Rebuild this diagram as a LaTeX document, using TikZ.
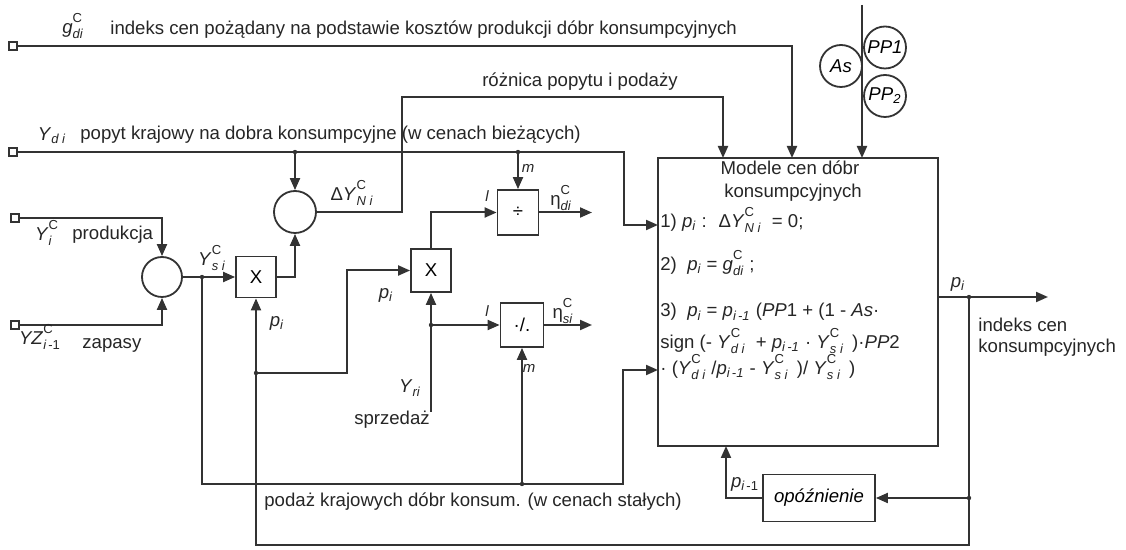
\documentclass[tikz,border=0pt]{standalone}
\usepackage{amsmath}
\usepackage{fontspec}
\setmainfont{Liberation Sans}
\usetikzlibrary{arrows.meta}
\newcommand{\Vb}[3]{\textit{#1}\ensuremath{^{\text{\raisebox{1.5pt}{#2}}}_{\text{\itshape\raisebox{-1pt}{#3}}}}}
\newcommand{\Vs}[2]{\textit{#1}\ensuremath{_{\text{\itshape #2}}}}
\tikzstyle{wire} = [line width=1pt, draw=black!80]
\tikzstyle{flow} = [
    wire,
    -{Triangle[length=6pt,width=5pt]}
]
\tikzstyle{blok} = [draw=black!80, line width=0.9pt, inner sep=0pt, minimum width=20pt, minimum height=20.5pt]
\tikzstyle{kolo} = [circle, draw=black!80, line width=0.9pt, inner sep=0pt, minimum size=20pt]
\tikzstyle{zacisk} = [draw=black!80, line width=0.8pt, fill=white, inner sep=0pt, minimum size=4pt]
\tikzstyle{punkt} = [circle, fill=black!80, inner sep=0pt, minimum size=2.2pt]
\tikzstyle{opis} = [inner sep=0pt, text=black!85]
\tikzstyle{maly} = [opis, font=\fontsize{7.5}{9}\selectfont\itshape]

\begin{document}
\begin{tikzpicture}[x=0.5pt,y=-0.5pt, every node/.style={font=\fontsize{9.3}{11}\selectfont}]
\useasboundingbox[fill=white] (0,0) rectangle (1126,550);

\node[draw=black!80, line width=0.6pt, minimum width=140pt, minimum height=144pt] (model) at (798,302) {};

\node[blok] (mx1) at (256,277) {X};
\node[blok, minimum height=21.5pt] (mx2) at (431,270.5) {X};
\node[blok, minimum width=20.5pt, minimum height=22.5pt] (div) at (518,212.5) {÷};
\node[blok, minimum width=21.5pt, minimum height=22pt] (prc) at (522,325) {·/.};
\node[blok, minimum width=56pt, minimum height=23.5pt] (delay) at (819,498) {\itshape opóźnienie};

\node[kolo] (sum) at (162,277) {};
\node[kolo, minimum size=21pt] (dy) at (295,212) {};
\node[kolo, minimum size=21pt] (as) at (841,66) {\itshape As};
\node[kolo, minimum size=21pt] (pp1) at (885,47.5) {\itshape PP1};
\node[kolo, minimum size=21pt] (pp2) at (885,96) {\itshape PP\textsubscript{2}};

\node[zacisk] (ing) at (13,46) {};
\node[zacisk] (iny) at (13,152) {};
\node[zacisk] (inp) at (15,218) {};
\node[zacisk] (inz) at (15,325) {};

\coordinate (gtop) at (792,158);
\coordinate (ptop) at (862,5);
\coordinate (pbox) at (862,158);
\coordinate (yd) at (624,225);
\coordinate (m1) at (658,225);
\coordinate (jd1) at (295,152);
\coordinate (jd2) at (518,152);
\coordinate (rz) at (402,97);
\coordinate (rztop) at (723,158);
\coordinate (js) at (202,277);
\coordinate (jp) at (256,373);
\coordinate (pz) at (347,270.5);
\coordinate (yr) at (431,412);
\coordinate (jr) at (431,325);
\coordinate (jm) at (522,484);
\coordinate (sp) at (623,370);
\coordinate (m3) at (658,370);
\coordinate (eta1) at (592,212.5);
\coordinate (eta2) at (592,325);
\coordinate (mo) at (938,297);
\coordinate (jo) at (969,297);
\coordinate (out) at (1048,297);
\coordinate (bl) at (969,545);
\coordinate (jdl) at (969,498);
\coordinate (mb) at (726,446);

\draw[flow] (ing) -| (gtop);
\draw[flow] (ptop) -- (pbox);
\draw[flow] (iny) -| (yd) -- (m1);
\draw[flow] (jd1) -- (dy);
\draw[flow] (jd2) -- (div);
\draw[flow] (dy) -| (rz) -| (rztop);
\draw[flow] (inp) -| (sum);
\draw[flow] (inz) -| (sum);
\draw[flow] (sum) -- (mx1);
\draw[flow] (mx1) -| (dy);
\draw[flow] (jp) -- (mx1);
\draw[flow] (jp) -| (pz) -- (mx2);
\draw[flow] (mx2) |- (div);
\draw[flow] (yr) -- (mx2);
\draw[flow] (jr) -- (prc);
\draw[wire] (js) |- (jm);
\draw[flow] (jm) -- (prc);
\draw[flow] (jm) -| (sp) -- (m3);
\draw[flow] (div) -- (eta1);
\draw[flow] (prc) -- (eta2);
\draw[flow] (mo) -- (out);
\draw[wire] (jo) -- (bl) -| (jp);
\draw[flow] (jdl) -- (delay);
\draw[flow] (delay) -| (mb);

\foreach \p in {js,jp,jr,jm,jd1,jd2,jo,jdl}
    \node[punkt] (d-\p) at (\p) {};

\node[opis] (lg) at (73,26) {\Vb{g}{C}{di}};
\node[opis, anchor=west] (tg) at (110,30) {indeks cen pożądany na podstawie kosztów produkcji dóbr konsumpcyjnych};
\node[opis] (lyd) at (52,136) {\Vs{Y}{d i}};
\node[opis, anchor=west] (tyd) at (80,135) {popyt krajowy na dobra konsumpcyjne (w cenach bieżących)};
\node[opis] (lyp) at (47,233) {\Vb{Y}{C}{i}};
\node[opis, anchor=west] (typ) at (72,235) {produkcja};
\node[opis] (lyz) at (40,337) {\Vb{YZ}{C}{i\,\upshape -1}};
\node[opis, anchor=west] (tyz) at (82,345) {zapasy};
\node[opis] (lys) at (212,258) {\Vb{Y}{C}{s i}};
\node[opis] (ldy) at (352,193) {Δ\Vb{Y}{C}{N i}};
\node[opis] (trz) at (580,82) {różnica popytu i podaży};
\node[opis] (lp1) at (277,323) {\Vs{p}{i}};
\node[opis] (lp2) at (386,295) {\Vs{p}{i}};
\node[maly] (lm1) at (528,168) {m};
\node[maly] (ll1) at (487,196) {l};
\node[maly] (ll2) at (487,311) {l};
\node[maly] (lm2) at (529,368) {m};
\node[opis] (le1) at (561,198) {η\ensuremath{^{\text{\raisebox{1.5pt}{C}}}_{\text{\itshape\raisebox{-1pt}{di}}}}};
\node[opis] (le2) at (563,311) {η\ensuremath{^{\text{\raisebox{1.5pt}{C}}}_{\text{\itshape\raisebox{-1pt}{si}}}}};
\node[opis] (lyr) at (410,388) {\Vs{Y}{ri}};
\node[opis] (tyr) at (392,420) {sprzedaż};
\node[opis, anchor=west] (tpod) at (264,502) {podaż krajowych dóbr konsum. (w cenach stałych)};
\node[opis] (lpo) at (958,284) {\Vs{p}{i}};
\node[opis, anchor=west] (tout1) at (978,325) {indeks cen};
\node[opis, anchor=west] (tout2) at (978,348) {konsumpcyjnych};
\node[opis] (lpd) at (745,484) {\Vs{p}{i\,\upshape -1}};

\node[opis] (t0) at (790,168) {Modele cen dóbr};
\node[opis] (t00) at (793,193) {konsumpcyjnych};
\node[opis, anchor=west] (t1) at (660,220) {1) \Vs{p}{i} : \ Δ\Vb{Y}{C}{N i} \ = 0;};
\node[opis, anchor=west] (t2) at (660,263) {2) \ \Vs{p}{i} = \Vb{g}{C}{di} ;};
\node[opis, anchor=west] (t3) at (660,312) {3) \ \Vs{p}{i} = \Vs{p}{i\,-1} (\textit{PP}1 + (1 - \textit{As}·};
\node[opis, anchor=west] (t4) at (660,341) {sign (- \Vb{Y}{C}{d i} \ + \Vs{p}{i\,-1} · \Vb{Y}{C}{s i} \,)·\textit{PP}2};
\node[opis, anchor=west] (t5) at (660,367) {· (\Vb{Y}{C}{d i} /\Vs{p}{i\,-1} - \Vb{Y}{C}{s i} \,)/ \Vb{Y}{C}{s i} \,)};

\end{tikzpicture}
\end{document}
